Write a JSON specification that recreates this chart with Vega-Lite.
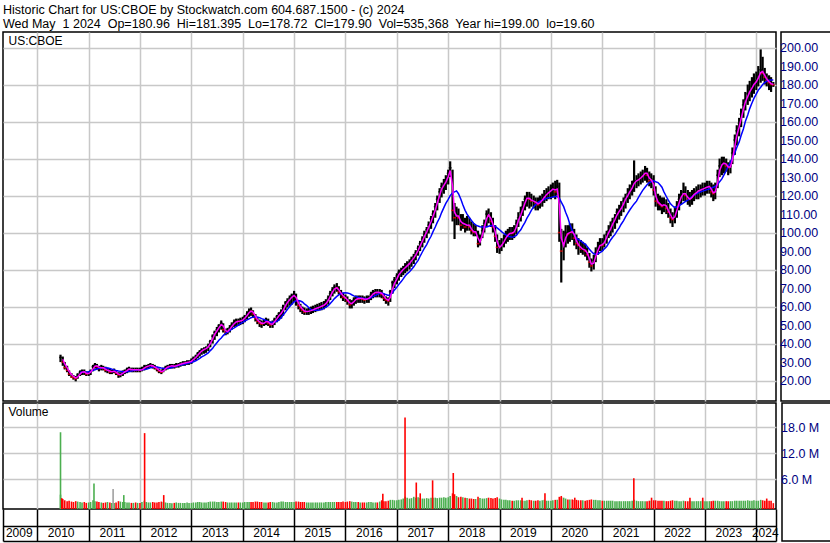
{
"$schema":"https://vega.github.io/schema/vega-lite/v6.json",
"padding":{"left":1,"top":3,"right":0,"bottom":0},
"background":"white",
"title":{"text":["Historic Chart for US:CBOE by Stockwatch.com 604.687.1500 - (c) 2024","Wed May\u00a0 1 2024\u00a0 Op=180.96\u00a0 Hi=181.395\u00a0 Lo=178.72\u00a0 Cl=179.90\u00a0 Vol=535,368\u00a0 Year hi=199.00\u00a0 lo=19.60"],"anchor":"start","frame":"group","font":"Liberation Sans","fontSize":12.5,"fontWeight":"normal","color":"#000000","lineHeight":14,"offset":1},
"config":{"view":{"stroke":"#000000","strokeWidth":1.5},"font":"Liberation Sans"},
"resolve":{"scale":{"color":"independent"}},
"datasets":{
"p":[
{"d":"2010-06-15","l":30,"h":34,"c":32.5,"v":2.5,"u":1},
{"d":"2010-07-01","l":28,"h":33,"c":30,"m":31.5,"v":1.5,"u":0},
{"d":"2010-07-15","l":26,"h":30,"c":27,"m":29,"v":1.2,"u":0},
{"d":"2010-08-01","l":24.5,"h":28,"c":25.5,"m":27,"v":1.0,"u":0},
{"d":"2010-08-15","l":22.5,"h":25.5,"c":23.5,"m":25,"v":1.1,"u":0},
{"d":"2010-09-01","l":21.5,"h":24,"c":22,"m":23.3,"v":0.9,"u":0},
{"d":"2010-09-15","l":20.5,"h":23,"c":21.5,"m":22.2,"v":0.8,"u":0},
{"d":"2010-10-01","l":19.6,"h":22.5,"c":21,"m":21.5,"v":1.0,"u":0},
{"d":"2010-10-15","l":21,"h":24,"c":23,"m":22,"v":0.9,"u":1},
{"d":"2010-11-01","l":22.5,"h":25.5,"c":24.5,"m":23.5,"b":24.5,"v":0.8,"u":1},
{"d":"2010-11-15","l":23,"h":26,"c":25,"m":24.6,"b":24.5,"v":0.7,"u":1},
{"d":"2010-12-01","l":23,"h":26,"c":24.5,"m":24.8,"b":24.5,"v":0.8,"u":0},
{"d":"2010-12-15","l":22.5,"h":25,"c":23.5,"m":24,"b":24.6,"v":0.6,"u":0},
{"d":"2011-01-01","l":22.5,"h":25,"c":24,"m":23.8,"b":24.8,"v":0.7,"u":1},
{"d":"2011-01-15","l":23,"h":26,"c":25,"m":24.5,"b":25.1,"v":0.8,"u":1},
{"d":"2011-02-01","l":25,"h":28.5,"c":27.5,"m":26.3,"b":25.5,"v":1.2,"u":1},
{"d":"2011-02-15","l":26.5,"h":29.5,"c":28.5,"m":27.8,"b":25.9,"v":1.0,"u":1},
{"d":"2011-03-01","l":26,"h":29,"c":27.5,"m":28,"b":26.3,"v":0.9,"u":0},
{"d":"2011-03-15","l":25,"h":28,"c":26.5,"m":27.2,"b":26.6,"v":0.8,"u":0},
{"d":"2011-04-01","l":25.5,"h":28.5,"c":27.5,"m":27,"b":26.8,"v":0.7,"u":1},
{"d":"2011-04-15","l":25.5,"h":28,"c":26.5,"m":27,"b":26.9,"v":0.6,"u":0},
{"d":"2011-05-01","l":24.5,"h":27.5,"c":25.5,"m":26.2,"b":27,"v":0.7,"u":0},
{"d":"2011-05-15","l":24,"h":27,"c":25.5,"m":25.6,"b":26.8,"v":0.8,"u":1},
{"d":"2011-06-01","l":23.5,"h":26.5,"c":24.5,"m":25.2,"b":26.5,"v":0.7,"u":0},
{"d":"2011-06-15","l":23.5,"h":26,"c":25,"m":24.8,"b":26.2,"v":0.6,"u":1},
{"d":"2011-07-01","l":24,"h":26.5,"c":25,"m":25,"b":25.8,"v":0.6,"u":1},
{"d":"2011-07-15","l":23,"h":25.5,"c":24,"m":24.6,"b":25.5,"v":0.7,"u":0},
{"d":"2011-08-01","l":21.5,"h":24.5,"c":23,"m":23.5,"b":25.2,"v":1.0,"u":0},
{"d":"2011-08-15","l":21.8,"h":24.5,"c":23.5,"m":23.2,"b":25,"v":0.9,"u":1},
{"d":"2011-09-01","l":22.5,"h":25.5,"c":24.5,"m":23.9,"b":24.8,"v":0.8,"u":1},
{"d":"2011-09-15","l":23.5,"h":26,"c":25,"m":24.7,"b":24.8,"v":0.8,"u":1},
{"d":"2011-10-01","l":24,"h":27,"c":26,"m":25.4,"b":24.8,"v":0.7,"u":1},
{"d":"2011-10-15","l":24.5,"h":27.5,"c":26.5,"m":26.2,"b":25,"v":0.7,"u":1},
{"d":"2011-11-01","l":24.5,"h":27,"c":25.5,"m":26,"b":25.2,"v":0.6,"u":0},
{"d":"2011-11-15","l":24.5,"h":27,"c":26,"m":25.8,"b":25.4,"v":0.6,"u":1},
{"d":"2011-12-01","l":24.5,"h":27,"c":25.5,"m":25.8,"b":25.6,"v":0.7,"u":0},
{"d":"2011-12-15","l":24.5,"h":27,"c":26,"m":25.8,"b":25.7,"v":0.6,"u":1},
{"d":"2012-01-01","l":24.5,"h":27,"c":25.5,"m":25.7,"b":25.8,"v":0.6,"u":0},
{"d":"2012-01-15","l":25,"h":27.5,"c":26,"m":25.8,"b":25.9,"v":0.8,"u":1},
{"d":"2012-02-01","l":25.5,"h":28.5,"c":27.5,"m":26.7,"b":26,"v":1.1,"u":1},
{"d":"2012-02-15","l":26,"h":28.5,"c":27.5,"m":27.4,"b":26.2,"v":0.8,"u":1},
{"d":"2012-03-01","l":26.5,"h":29,"c":28,"m":27.8,"b":26.5,"v":0.7,"u":1},
{"d":"2012-03-15","l":27,"h":29.5,"c":28.5,"m":28.2,"b":26.9,"v":0.7,"u":1},
{"d":"2012-04-01","l":26.5,"h":29,"c":27.5,"m":28,"b":27.2,"v":0.8,"u":0},
{"d":"2012-04-15","l":26,"h":28.5,"c":27,"m":27.3,"b":27.3,"v":0.7,"u":0},
{"d":"2012-05-01","l":25,"h":27.5,"c":26,"m":26.6,"b":27.3,"v":0.7,"u":0},
{"d":"2012-05-15","l":24,"h":26.5,"c":25,"m":25.6,"b":27.1,"v":0.8,"u":0},
{"d":"2012-06-01","l":23.5,"h":26,"c":24.5,"m":24.9,"b":26.8,"v":0.9,"u":0},
{"d":"2012-06-15","l":24.5,"h":27,"c":26,"m":25.2,"b":26.6,"v":0.8,"u":1},
{"d":"2012-07-01","l":25.5,"h":28,"c":27,"m":26.4,"b":26.5,"v":0.7,"u":1},
{"d":"2012-07-15","l":26,"h":28.5,"c":27.5,"m":27.2,"b":26.6,"v":0.6,"u":1},
{"d":"2012-08-01","l":26.5,"h":29,"c":28,"m":27.7,"b":26.8,"v":0.6,"u":1},
{"d":"2012-08-15","l":26.5,"h":29,"c":28,"m":28,"b":27.1,"v":0.5,"u":1},
{"d":"2012-09-01","l":26.5,"h":29,"c":27.5,"m":27.8,"b":27.5,"v":0.6,"u":0},
{"d":"2012-09-15","l":27,"h":29.5,"c":28.5,"m":28,"b":27.8,"v":0.7,"u":1},
{"d":"2012-10-01","l":27,"h":29.5,"c":28.5,"m":28.4,"b":28.2,"v":0.6,"u":1},
{"d":"2012-10-15","l":27.5,"h":30,"c":29,"m":28.8,"b":28.4,"v":0.6,"u":1},
{"d":"2012-11-01","l":28,"h":30.5,"c":29.5,"m":29.2,"b":28.6,"v":0.6,"u":1},
{"d":"2012-11-15","l":28,"h":30.5,"c":29.5,"m":29.5,"b":28.9,"v":0.6,"u":1},
{"d":"2012-12-01","l":28.5,"h":31,"c":30,"m":29.8,"b":29.2,"v":0.7,"u":1},
{"d":"2012-12-15","l":28.5,"h":31,"c":30,"m":30,"b":29.5,"v":0.6,"u":1},
{"d":"2013-01-01","l":29,"h":32,"c":31,"m":30.4,"b":29.8,"v":0.6,"u":1},
{"d":"2013-01-15","l":30,"h":33,"c":32,"m":31.4,"b":30.2,"v":0.7,"u":1},
{"d":"2013-02-01","l":31,"h":34,"c":33,"m":32.5,"b":30.7,"v":0.7,"u":1},
{"d":"2013-02-15","l":32,"h":35.5,"c":34.5,"m":33.7,"b":31.3,"v":0.8,"u":1},
{"d":"2013-03-01","l":33,"h":36.5,"c":35.5,"m":34.9,"b":32,"v":0.8,"u":1},
{"d":"2013-03-15","l":34,"h":37.5,"c":36.5,"m":36,"b":32.8,"v":0.7,"u":1},
{"d":"2013-04-01","l":34.5,"h":38,"c":37,"m":36.8,"b":33.5,"v":0.7,"u":1},
{"d":"2013-04-15","l":35,"h":38.5,"c":37.5,"m":37.3,"b":34.2,"v":0.7,"u":1},
{"d":"2013-05-01","l":36,"h":40,"c":39,"m":38.2,"b":35,"v":0.8,"u":1},
{"d":"2013-05-15","l":38,"h":42,"c":41,"m":40,"b":36.2,"v":0.9,"u":1},
{"d":"2013-06-01","l":40,"h":45,"c":44,"m":42.5,"b":37.5,"v":0.9,"u":1},
{"d":"2013-06-15","l":42,"h":47,"c":46,"m":45,"b":39,"v":0.9,"u":1},
{"d":"2013-07-01","l":44,"h":49,"c":47.5,"m":46.8,"b":40.5,"v":0.8,"u":1},
{"d":"2013-07-15","l":46,"h":50.5,"c":49.5,"m":48.5,"b":41.8,"v":0.8,"u":1},
{"d":"2013-08-01","l":47.5,"h":52.5,"c":51,"m":50.3,"b":43,"v":0.9,"u":1},
{"d":"2013-08-15","l":46,"h":51,"c":47.5,"m":49.5,"b":44.3,"v":0.9,"u":0},
{"d":"2013-09-01","l":44.5,"h":48,"c":46,"m":47,"b":45.5,"v":0.8,"u":0},
{"d":"2013-09-15","l":45,"h":48.5,"c":47,"m":46.5,"b":46.2,"v":0.7,"u":1},
{"d":"2013-10-01","l":46,"h":50,"c":48.5,"m":47.7,"b":47,"v":0.7,"u":1},
{"d":"2013-10-15","l":47.5,"h":51.5,"c":50,"m":49.2,"b":47.8,"v":0.7,"u":1},
{"d":"2013-11-01","l":49,"h":53,"c":51.5,"m":50.7,"b":48.5,"v":0.7,"u":1},
{"d":"2013-11-15","l":49.5,"h":53.5,"c":52,"m":51.7,"b":49.2,"v":0.7,"u":1},
{"d":"2013-12-01","l":49.5,"h":53.5,"c":52,"m":52,"b":50,"v":0.7,"u":0},
{"d":"2013-12-15","l":50,"h":54,"c":52.5,"m":52.2,"b":50.8,"v":0.7,"u":1},
{"d":"2014-01-01","l":50.5,"h":54.5,"c":53,"m":52.7,"b":51.5,"v":0.7,"u":1},
{"d":"2014-01-15","l":51.5,"h":55.5,"c":54.5,"m":53.7,"b":52.2,"v":0.8,"u":1},
{"d":"2014-02-01","l":53,"h":57.5,"c":56,"m":55.2,"b":52.8,"v":0.8,"u":1},
{"d":"2014-02-15","l":54.5,"h":59,"c":57.5,"m":56.7,"b":53.4,"v":0.8,"u":1},
{"d":"2014-03-01","l":55,"h":59.5,"c":57.5,"m":57.5,"b":54,"v":0.8,"u":0},
{"d":"2014-03-15","l":54,"h":58,"c":56,"m":57,"b":54.3,"v":0.8,"u":0},
{"d":"2014-04-01","l":52,"h":56,"c":53.5,"m":55,"b":54.5,"v":0.9,"u":0},
{"d":"2014-04-15","l":50.5,"h":54.5,"c":52,"m":53,"b":54.3,"v":0.9,"u":0},
{"d":"2014-05-01","l":49,"h":53,"c":51,"m":51.7,"b":54,"v":0.8,"u":0},
{"d":"2014-05-15","l":48.5,"h":52.5,"c":50.5,"m":51,"b":53.5,"v":0.8,"u":0},
{"d":"2014-06-01","l":49.5,"h":53,"c":51.5,"m":51,"b":53,"v":0.7,"u":1},
{"d":"2014-06-15","l":50,"h":54,"c":52.5,"m":51.8,"b":52.5,"v":0.7,"u":1},
{"d":"2014-07-01","l":49.5,"h":53.5,"c":51,"m":51.8,"b":52,"v":0.7,"u":0},
{"d":"2014-07-15","l":48.5,"h":52,"c":50,"m":50.7,"b":51.7,"v":0.8,"u":0},
{"d":"2014-08-01","l":48.5,"h":52.5,"c":51,"m":50.5,"b":51.5,"v":0.8,"u":1},
{"d":"2014-08-15","l":50,"h":54,"c":53,"m":51.8,"b":51.6,"v":0.7,"u":1},
{"d":"2014-09-01","l":51.5,"h":55.5,"c":54.5,"m":53.5,"b":52,"v":0.7,"u":1},
{"d":"2014-09-15","l":52.5,"h":57,"c":56,"m":55,"b":52.8,"v":0.8,"u":1},
{"d":"2014-10-01","l":53.5,"h":58.5,"c":57,"m":56.3,"b":54,"v":0.9,"u":1},
{"d":"2014-10-15","l":55,"h":61,"c":59.5,"m":58,"b":55.5,"v":0.9,"u":1},
{"d":"2014-11-01","l":58,"h":63,"c":62,"m":60.5,"b":57,"v":0.8,"u":1},
{"d":"2014-11-15","l":59.5,"h":64.5,"c":63,"m":62.3,"b":58.5,"v":0.8,"u":1},
{"d":"2014-12-01","l":60.5,"h":66,"c":64.5,"m":63.7,"b":60,"v":0.8,"u":1},
{"d":"2014-12-15","l":61,"h":67,"c":65.5,"m":65,"b":61.3,"v":0.8,"u":1},
{"d":"2015-01-01","l":62.5,"h":68.5,"c":66.5,"m":66,"b":62.5,"v":0.8,"u":1},
{"d":"2015-01-15","l":60.5,"h":67,"c":63,"m":65,"b":63.1,"v":0.9,"u":0},
{"d":"2015-02-01","l":58.5,"h":63.5,"c":60.5,"m":62,"b":63.3,"v":0.9,"u":0},
{"d":"2015-02-15","l":57,"h":61.5,"c":59,"m":60,"b":63,"v":0.8,"u":0},
{"d":"2015-03-01","l":56,"h":60,"c":58,"m":58.7,"b":62.5,"v":0.8,"u":0},
{"d":"2015-03-15","l":55.5,"h":59.5,"c":57,"m":57.6,"b":61.5,"v":0.8,"u":0},
{"d":"2015-04-01","l":55.5,"h":59,"c":57.5,"m":57.4,"b":60.5,"v":0.7,"u":1},
{"d":"2015-04-15","l":55.5,"h":59.5,"c":57.5,"m":57.5,"b":59.5,"v":0.7,"u":1},
{"d":"2015-05-01","l":56,"h":60,"c":58,"m":57.8,"b":58.5,"v":0.7,"u":1},
{"d":"2015-05-15","l":56.5,"h":60.5,"c":58.5,"m":58.2,"b":58.2,"v":0.7,"u":1},
{"d":"2015-06-01","l":57,"h":61,"c":59,"m":58.8,"b":58,"v":0.7,"u":1},
{"d":"2015-06-15","l":57.5,"h":61.5,"c":59.5,"m":59.2,"b":58,"v":0.7,"u":1},
{"d":"2015-07-01","l":58,"h":62,"c":60,"m":59.7,"b":58.2,"v":0.7,"u":1},
{"d":"2015-07-15","l":58,"h":62.5,"c":60.5,"m":60.2,"b":58.5,"v":0.7,"u":1},
{"d":"2015-08-01","l":58.5,"h":63,"c":61,"m":60.7,"b":59,"v":0.7,"u":1},
{"d":"2015-08-15","l":59.5,"h":64,"c":62.5,"m":61.6,"b":59.7,"v":0.8,"u":1},
{"d":"2015-09-01","l":61,"h":66,"c":64.5,"m":63.3,"b":60.5,"v":0.8,"u":1},
{"d":"2015-09-15","l":63.5,"h":68.5,"c":67,"m":65.5,"b":61.7,"v":0.8,"u":1},
{"d":"2015-10-01","l":65.5,"h":70.5,"c":69,"m":67.8,"b":63,"v":0.8,"u":1},
{"d":"2015-10-15","l":67,"h":72,"c":70.5,"m":69.5,"b":64.3,"v":0.8,"u":1},
{"d":"2015-11-01","l":68,"h":72.7,"c":70,"m":70.2,"b":65.5,"v":0.8,"u":0},
{"d":"2015-11-15","l":66.5,"h":71,"c":68,"m":69,"b":66.3,"v":0.8,"u":0},
{"d":"2015-12-01","l":64.5,"h":69,"c":66.5,"m":67.3,"b":67,"v":0.8,"u":0},
{"d":"2015-12-15","l":63,"h":67.5,"c":65,"m":65.8,"b":67.3,"v":0.9,"u":0},
{"d":"2016-01-01","l":62.5,"h":66.5,"c":64.5,"m":64.8,"b":67.5,"v":0.8,"u":0},
{"d":"2016-01-15","l":61,"h":65.5,"c":63,"m":63.7,"b":67.3,"v":0.9,"u":0},
{"d":"2016-02-01","l":59,"h":64,"c":61,"m":62,"b":67,"v":1.0,"u":0},
{"d":"2016-02-15","l":59,"h":63.5,"c":62,"m":61.6,"b":66.4,"v":0.9,"u":1},
{"d":"2016-03-01","l":60.5,"h":65,"c":63.5,"m":62.6,"b":65.8,"v":0.8,"u":1},
{"d":"2016-03-15","l":61.5,"h":66,"c":64.5,"m":63.8,"b":65.4,"v":0.8,"u":1},
{"d":"2016-04-01","l":62,"h":66,"c":64,"m":64.3,"b":65,"v":0.8,"u":0},
{"d":"2016-04-15","l":62,"h":66,"c":64.5,"m":64.3,"b":64.8,"v":0.7,"u":1},
{"d":"2016-05-01","l":62,"h":66,"c":64,"m":64.3,"b":64.5,"v":0.7,"u":0},
{"d":"2016-05-15","l":61.5,"h":65.5,"c":63.5,"m":64,"b":64.4,"v":0.7,"u":0},
{"d":"2016-06-01","l":62,"h":66,"c":64.5,"m":64,"b":64.3,"v":0.7,"u":1},
{"d":"2016-06-15","l":62,"h":66,"c":64.5,"m":64.4,"b":64.4,"v":0.8,"u":1},
{"d":"2016-07-01","l":63.5,"h":68,"c":66.5,"m":65.5,"b":64.8,"v":0.8,"u":1},
{"d":"2016-07-15","l":64.5,"h":69,"c":67.5,"m":66.8,"b":65.4,"v":0.7,"u":1},
{"d":"2016-08-01","l":65,"h":69.5,"c":68,"m":67.6,"b":66,"v":0.7,"u":1},
{"d":"2016-08-15","l":65,"h":69.5,"c":67.5,"m":67.8,"b":66.6,"v":0.7,"u":0},
{"d":"2016-09-01","l":65,"h":69.5,"c":67.5,"m":67.6,"b":67.2,"v":0.9,"u":1},
{"d":"2016-09-15","l":64.5,"h":69,"c":66.5,"m":67.2,"b":67.3,"v":1.2,"u":0},
{"d":"2016-10-01","l":63,"h":67,"c":64.5,"m":65.7,"b":67,"v":1.0,"u":0},
{"d":"2016-10-15","l":61.5,"h":65.5,"c":63.5,"m":64.2,"b":66.5,"v":1.0,"u":0},
{"d":"2016-11-01","l":60.5,"h":65,"c":63,"m":63.4,"b":66,"v":1.1,"u":0},
{"d":"2016-11-15","l":62.5,"h":69,"c":68,"m":65,"b":66.5,"v":1.3,"u":1},
{"d":"2016-12-01","l":67,"h":74,"c":73,"m":69.5,"b":67.5,"v":1.3,"u":1},
{"d":"2016-12-15","l":70,"h":76,"c":74.5,"m":72.5,"b":69,"v":1.2,"u":1},
{"d":"2017-01-01","l":72,"h":78,"c":76.5,"m":75,"b":70.5,"v":1.2,"u":1},
{"d":"2017-01-15","l":74,"h":80,"c":78.5,"m":77.3,"b":72,"v":1.3,"u":1},
{"d":"2017-02-01","l":76,"h":81,"c":79.5,"m":78.8,"b":73.5,"v":1.4,"u":1},
{"d":"2017-02-15","l":77,"h":82,"c":80.5,"m":80,"b":75,"v":1.6,"u":1},
{"d":"2017-03-01","l":78,"h":83.5,"c":81.5,"m":81,"b":76.5,"v":2.0,"u":1},
{"d":"2017-03-15","l":79,"h":84.5,"c":82.5,"m":82,"b":77.7,"v":1.8,"u":1},
{"d":"2017-04-01","l":80,"h":85.5,"c":84,"m":83.2,"b":78.8,"v":1.6,"u":1},
{"d":"2017-04-15","l":81.5,"h":87,"c":85.5,"m":84.7,"b":80,"v":1.7,"u":1},
{"d":"2017-05-01","l":83,"h":88.5,"c":87,"m":86.2,"b":81.5,"v":2.0,"u":1},
{"d":"2017-05-15","l":85,"h":90.5,"c":89,"m":88,"b":83.2,"v":1.8,"u":1},
{"d":"2017-06-01","l":87.5,"h":93,"c":91.5,"m":90.3,"b":85,"v":1.9,"u":1},
{"d":"2017-06-15","l":90,"h":95.5,"c":94,"m":92.8,"b":87.2,"v":1.7,"u":1},
{"d":"2017-07-01","l":92,"h":98,"c":96.5,"m":95.3,"b":89.5,"v":1.6,"u":1},
{"d":"2017-07-15","l":94.5,"h":101,"c":99,"m":97.8,"b":91.5,"v":1.6,"u":1},
{"d":"2017-08-01","l":97,"h":103,"c":101.5,"m":100.3,"b":93.5,"v":1.7,"u":1},
{"d":"2017-08-15","l":99.5,"h":106,"c":104,"m":102.8,"b":95.8,"v":1.6,"u":1},
{"d":"2017-09-01","l":102,"h":109,"c":107.5,"m":105.8,"b":98,"v":1.8,"u":1},
{"d":"2017-09-15","l":105,"h":112,"c":110,"m":108.8,"b":100.5,"v":1.8,"u":1},
{"d":"2017-10-01","l":108,"h":116,"c":114,"m":112,"b":103,"v":1.8,"u":1},
{"d":"2017-10-15","l":112,"h":120,"c":118,"m":116,"b":105.5,"v":1.7,"u":1},
{"d":"2017-11-01","l":116,"h":124,"c":122,"m":120,"b":108,"v":1.8,"u":1},
{"d":"2017-11-15","l":119,"h":127,"c":125,"m":123.5,"b":110.8,"v":1.8,"u":1},
{"d":"2017-12-01","l":121,"h":129,"c":126,"m":125.5,"b":113.5,"v":1.9,"u":1},
{"d":"2017-12-15","l":123,"h":131,"c":128.5,"m":127.3,"b":115.8,"v":1.8,"u":1},
{"d":"2018-01-01","l":126,"h":134,"c":132,"m":130.2,"b":118,"v":1.9,"u":1},
{"d":"2018-01-15","l":130,"h":138.5,"c":135,"m":133.5,"b":120,"v":2.2,"u":1},
{"d":"2018-02-01","l":106,"h":134,"c":112,"m":125,"b":121.5,"v":2.8,"u":0},
{"d":"2018-02-15","l":96.5,"h":116,"c":108,"m":111,"b":122,"v":2.6,"u":0},
{"d":"2018-03-01","l":104,"h":114,"c":110,"m":109,"b":122.5,"v":2.2,"u":1},
{"d":"2018-03-15","l":104,"h":113,"c":108,"m":109,"b":121,"v":1.9,"u":0},
{"d":"2018-04-01","l":101,"h":110,"c":104,"m":106,"b":118,"v":2.0,"u":0},
{"d":"2018-04-15","l":102,"h":110,"c":106,"m":105,"b":115,"v":1.9,"u":1},
{"d":"2018-05-01","l":100,"h":108,"c":103,"m":104.5,"b":112,"v":1.8,"u":0},
{"d":"2018-05-15","l":101,"h":109,"c":105,"m":104,"b":110,"v":1.7,"u":1},
{"d":"2018-06-01","l":101,"h":108,"c":103,"m":104,"b":108,"v":1.6,"u":0},
{"d":"2018-06-15","l":99,"h":106,"c":101,"m":102,"b":106.5,"v":1.6,"u":0},
{"d":"2018-07-01","l":98,"h":105,"c":100,"m":100.5,"b":105,"v":1.5,"u":0},
{"d":"2018-07-15","l":98,"h":104,"c":101,"m":100.5,"b":104.2,"v":1.5,"u":1},
{"d":"2018-08-01","l":92,"h":101,"c":94,"m":97,"b":103.5,"v":2.0,"u":0},
{"d":"2018-08-15","l":93,"h":99,"c":96,"m":95,"b":103.2,"v":1.7,"u":1},
{"d":"2018-09-01","l":97,"h":104,"c":101,"m":98.5,"b":103,"v":1.6,"u":1},
{"d":"2018-09-15","l":100,"h":107,"c":105,"m":103,"b":103,"v":1.6,"u":1},
{"d":"2018-10-01","l":103,"h":112,"c":110,"m":107.5,"b":103,"v":1.7,"u":1},
{"d":"2018-10-15","l":105,"h":113,"c":109,"m":109.5,"b":103.4,"v":1.8,"u":0},
{"d":"2018-11-01","l":103,"h":111,"c":106,"m":107.5,"b":103.8,"v":1.7,"u":0},
{"d":"2018-11-15","l":100,"h":108,"c":103,"m":104.5,"b":103.7,"v":1.6,"u":0},
{"d":"2018-12-01","l":95,"h":104,"c":98,"m":100.5,"b":103.5,"v":1.7,"u":0},
{"d":"2018-12-15","l":89,"h":99,"c":92,"m":95,"b":102.5,"v":1.9,"u":0},
{"d":"2019-01-01","l":88.5,"h":96,"c":92,"m":92,"b":101.5,"v":1.6,"u":1},
{"d":"2019-01-15","l":90,"h":97,"c":94,"m":93,"b":100.5,"v":1.4,"u":1},
{"d":"2019-02-01","l":92,"h":99,"c":96,"m":95,"b":99.5,"v":1.3,"u":1},
{"d":"2019-02-15","l":94,"h":101,"c":98,"m":97,"b":98.8,"v":1.3,"u":1},
{"d":"2019-03-01","l":95,"h":102,"c":99,"m":98.5,"b":98,"v":1.2,"u":1},
{"d":"2019-03-15","l":96,"h":103,"c":100,"m":99.5,"b":97.8,"v":1.2,"u":1},
{"d":"2019-04-01","l":96,"h":103,"c":99.5,"m":99.8,"b":97.5,"v":1.1,"u":0},
{"d":"2019-04-15","l":97,"h":104,"c":101,"m":100.3,"b":97.8,"v":1.1,"u":1},
{"d":"2019-05-01","l":99,"h":107,"c":105,"m":103,"b":98.5,"v":1.2,"u":1},
{"d":"2019-05-15","l":103,"h":111,"c":108,"m":106.5,"b":100,"v":1.2,"u":1},
{"d":"2019-06-01","l":106,"h":114,"c":111,"m":109.5,"b":101.5,"v":1.2,"u":1},
{"d":"2019-06-15","l":109,"h":117,"c":114,"m":112.5,"b":103.5,"v":1.1,"u":1},
{"d":"2019-07-01","l":112,"h":120,"c":118,"m":116,"b":105.5,"v":1.1,"u":1},
{"d":"2019-07-15","l":114,"h":122,"c":119,"m":118.5,"b":107.8,"v":1.2,"u":1},
{"d":"2019-08-01","l":113,"h":122,"c":118,"m":118.5,"b":110,"v":1.3,"u":0},
{"d":"2019-08-15","l":114,"h":121,"c":117,"m":117.5,"b":112,"v":1.2,"u":0},
{"d":"2019-09-01","l":113,"h":120,"c":117,"m":117,"b":114,"v":1.1,"u":1},
{"d":"2019-09-15","l":112,"h":119,"c":116,"m":116.5,"b":115.2,"v":1.1,"u":0},
{"d":"2019-10-01","l":112,"h":119,"c":115,"m":115.5,"b":116.3,"v":1.2,"u":0},
{"d":"2019-10-15","l":113,"h":120,"c":117,"m":116,"b":117,"v":1.1,"u":1},
{"d":"2019-11-01","l":114,"h":121,"c":118,"m":117.5,"b":117.5,"v":1.2,"u":1},
{"d":"2019-11-15","l":116,"h":123,"c":120,"m":119,"b":118,"v":1.3,"u":1},
{"d":"2019-12-01","l":117,"h":124,"c":121,"m":120.5,"b":118.5,"v":1.1,"u":1},
{"d":"2019-12-15","l":118,"h":125,"c":122,"m":121.5,"b":118.8,"v":1.1,"u":1},
{"d":"2020-01-01","l":118,"h":126,"c":123,"m":122.5,"b":119,"v":1.1,"u":1},
{"d":"2020-01-15","l":119,"h":127,"c":124,"m":123.5,"b":119.2,"v":1.2,"u":1},
{"d":"2020-02-01","l":118,"h":128,"c":122,"m":123,"b":119.5,"v":1.3,"u":0},
{"d":"2020-02-15","l":120,"h":128.5,"c":125,"m":123.5,"b":119.5,"v":1.3,"u":1},
{"d":"2020-03-01","l":95,"h":127,"c":100,"m":115,"b":118.5,"v":2.0,"u":0},
{"d":"2020-03-15","l":73,"h":102,"c":90,"m":97,"b":116.5,"v":2.2,"u":0},
{"d":"2020-04-01","l":85,"h":101,"c":95,"m":93,"b":114,"v":1.8,"u":1},
{"d":"2020-04-15","l":92,"h":104,"c":100,"m":97,"b":111,"v":1.6,"u":1},
{"d":"2020-05-01","l":94,"h":104,"c":99,"m":99.5,"b":108,"v":1.4,"u":0},
{"d":"2020-05-15","l":95,"h":105,"c":101,"m":100,"b":104.5,"v":1.4,"u":1},
{"d":"2020-06-01","l":96,"h":105,"c":100,"m":100.5,"b":101,"v":1.4,"u":0},
{"d":"2020-06-15","l":93,"h":102,"c":97,"m":99,"b":99,"v":1.3,"u":0},
{"d":"2020-07-01","l":91,"h":99,"c":94,"m":95.5,"b":97,"v":1.3,"u":0},
{"d":"2020-07-15","l":88,"h":97,"c":93,"m":93.5,"b":96.2,"v":1.2,"u":0},
{"d":"2020-08-01","l":89,"h":96,"c":91,"m":92,"b":95.5,"v":1.2,"u":0},
{"d":"2020-08-15","l":88,"h":95,"c":91,"m":91,"b":94.6,"v":1.2,"u":1},
{"d":"2020-09-01","l":87,"h":94,"c":90,"m":90.5,"b":93.8,"v":1.1,"u":0},
{"d":"2020-09-15","l":85,"h":92,"c":88,"m":89,"b":92.5,"v":1.2,"u":0},
{"d":"2020-10-01","l":81,"h":89,"c":84,"m":86,"b":91,"v":1.3,"u":0},
{"d":"2020-10-15","l":79,"h":86,"c":82,"m":83,"b":89.8,"v":1.4,"u":0},
{"d":"2020-11-01","l":80,"h":88,"c":85,"m":83.5,"b":88.5,"v":1.3,"u":1},
{"d":"2020-11-15","l":84,"h":92,"c":89,"m":87,"b":88.3,"v":1.3,"u":1},
{"d":"2020-12-01","l":88,"h":95,"c":92,"m":90.5,"b":88.5,"v":1.2,"u":1},
{"d":"2020-12-15","l":90,"h":97,"c":94,"m":93,"b":89.2,"v":1.2,"u":1},
{"d":"2021-01-01","l":90,"h":97,"c":93,"m":93.5,"b":90,"v":1.1,"u":0},
{"d":"2021-01-15","l":92,"h":99,"c":96,"m":94.5,"b":91.2,"v":1.1,"u":1},
{"d":"2021-02-01","l":94,"h":101,"c":99,"m":97.5,"b":92.5,"v":1.1,"u":1},
{"d":"2021-02-15","l":97,"h":104,"c":101,"m":100,"b":94.2,"v":1.1,"u":1},
{"d":"2021-03-01","l":98,"h":106,"c":103,"m":102,"b":96,"v":1.1,"u":1},
{"d":"2021-03-15","l":100,"h":108,"c":106,"m":104.5,"b":97.5,"v":1.1,"u":1},
{"d":"2021-04-01","l":102,"h":110,"c":108,"m":107,"b":99,"v":1.0,"u":1},
{"d":"2021-04-15","l":105,"h":113,"c":111,"m":109.5,"b":100.8,"v":1.0,"u":1},
{"d":"2021-05-01","l":107,"h":115,"c":112,"m":111.5,"b":102.5,"v":1.0,"u":1},
{"d":"2021-05-15","l":109,"h":117,"c":114,"m":113,"b":104.5,"v":1.0,"u":1},
{"d":"2021-06-01","l":111,"h":119,"c":117,"m":115.5,"b":106.5,"v":1.0,"u":1},
{"d":"2021-06-15","l":113,"h":121,"c":119,"m":118,"b":108.5,"v":1.0,"u":1},
{"d":"2021-07-01","l":116,"h":124,"c":121,"m":120,"b":110.5,"v":1.0,"u":1},
{"d":"2021-07-15","l":118,"h":126,"c":123,"m":122,"b":112.2,"v":1.0,"u":1},
{"d":"2021-08-01","l":120,"h":128,"c":125,"m":124,"b":114,"v":1.1,"u":1},
{"d":"2021-08-15","l":122,"h":139,"c":128,"m":126.5,"b":115.5,"v":1.3,"u":1},
{"d":"2021-09-01","l":124,"h":131,"c":128,"m":128,"b":117,"v":1.1,"u":1},
{"d":"2021-09-15","l":125,"h":132,"c":129,"m":128.5,"b":119,"v":1.0,"u":1},
{"d":"2021-10-01","l":126,"h":133,"c":130,"m":129.5,"b":121,"v":1.0,"u":1},
{"d":"2021-10-15","l":127,"h":134,"c":131,"m":130.5,"b":122.8,"v":1.0,"u":1},
{"d":"2021-11-01","l":128,"h":136,"c":133,"m":132,"b":124.5,"v":1.0,"u":1},
{"d":"2021-11-15","l":127,"h":135,"c":131,"m":132,"b":125.8,"v":1.0,"u":0},
{"d":"2021-12-01","l":125,"h":133,"c":128,"m":129.5,"b":127,"v":1.1,"u":0},
{"d":"2021-12-15","l":124,"h":132,"c":129,"m":128.5,"b":127.5,"v":1.1,"u":1},
{"d":"2022-01-01","l":120,"h":131,"c":123,"m":126,"b":128,"v":1.2,"u":0},
{"d":"2022-01-15","l":114,"h":125,"c":117,"m":120,"b":127.5,"v":1.2,"u":0},
{"d":"2022-02-01","l":112,"h":121,"c":116,"m":116.5,"b":127,"v":1.1,"u":0},
{"d":"2022-02-15","l":112,"h":120,"c":115,"m":115.5,"b":125.8,"v":1.1,"u":0},
{"d":"2022-03-01","l":110,"h":119,"c":114,"m":114.5,"b":124.5,"v":1.1,"u":0},
{"d":"2022-03-15","l":111,"h":119,"c":116,"m":115,"b":122,"v":1.1,"u":1},
{"d":"2022-04-01","l":110,"h":118,"c":113,"m":114.5,"b":119.5,"v":1.0,"u":0},
{"d":"2022-04-15","l":108,"h":116,"c":111,"m":112,"b":117.5,"v":1.0,"u":0},
{"d":"2022-05-01","l":105,"h":113,"c":108,"m":109.5,"b":115.5,"v":1.1,"u":0},
{"d":"2022-05-15","l":103,"h":111,"c":107,"m":107.5,"b":114.5,"v":1.2,"u":0},
{"d":"2022-06-01","l":105,"h":114,"c":110,"m":108.5,"b":113.5,"v":1.1,"u":1},
{"d":"2022-06-15","l":108,"h":117,"c":114,"m":112,"b":113.8,"v":1.1,"u":1},
{"d":"2022-07-01","l":112,"h":121,"c":118,"m":116,"b":114.5,"v":1.0,"u":1},
{"d":"2022-07-15","l":115,"h":123,"c":120,"m":119,"b":115.2,"v":1.0,"u":1},
{"d":"2022-08-01","l":117,"h":127,"c":122,"m":121,"b":116,"v":1.1,"u":1},
{"d":"2022-08-15","l":117,"h":125,"c":120,"m":121,"b":116.8,"v":1.0,"u":0},
{"d":"2022-09-01","l":115,"h":123,"c":118,"m":119,"b":117.5,"v":1.0,"u":0},
{"d":"2022-09-15","l":114,"h":122,"c":118,"m":118,"b":118.5,"v":1.1,"u":1},
{"d":"2022-10-01","l":115,"h":123,"c":120,"m":119,"b":119.5,"v":1.0,"u":1},
{"d":"2022-10-15","l":117,"h":124,"c":121,"m":120.5,"b":120.2,"v":1.0,"u":1},
{"d":"2022-11-01","l":118,"h":125,"c":122,"m":121.5,"b":121,"v":1.0,"u":1},
{"d":"2022-11-15","l":118,"h":126,"c":123,"m":122.5,"b":121.5,"v":1.0,"u":1},
{"d":"2022-12-01","l":119,"h":126,"c":123,"m":123,"b":122,"v":1.0,"u":1},
{"d":"2022-12-15","l":120,"h":127,"c":124,"m":123.5,"b":122.4,"v":1.1,"u":1},
{"d":"2023-01-01","l":120,"h":127,"c":124,"m":124,"b":122.8,"v":1.0,"u":1},
{"d":"2023-01-15","l":121,"h":128,"c":125,"m":124.5,"b":123.2,"v":1.0,"u":1},
{"d":"2023-02-01","l":121,"h":128,"c":125,"m":125,"b":123.5,"v":1.0,"u":1},
{"d":"2023-02-15","l":119,"h":127,"c":122,"m":123.5,"b":124,"v":1.0,"u":0},
{"d":"2023-03-01","l":117,"h":126,"c":121,"m":121.5,"b":124.5,"v":1.1,"u":0},
{"d":"2023-03-15","l":118,"h":127,"c":123,"m":122,"b":125,"v":1.1,"u":1},
{"d":"2023-04-01","l":124,"h":134,"c":131,"m":127,"b":126,"v":1.1,"u":1},
{"d":"2023-04-15","l":130,"h":140,"c":136,"m":133.5,"b":127.5,"v":1.0,"u":1},
{"d":"2023-05-01","l":131,"h":141,"c":137,"m":136.5,"b":129,"v":1.0,"u":1},
{"d":"2023-05-15","l":132,"h":141,"c":138,"m":137.5,"b":131,"v":1.0,"u":1},
{"d":"2023-06-01","l":133,"h":140,"c":136,"m":137,"b":133.5,"v":1.0,"u":0},
{"d":"2023-06-15","l":131,"h":138,"c":135,"m":135.5,"b":135.8,"v":1.0,"u":0},
{"d":"2023-07-01","l":132,"h":139,"c":136,"m":135.5,"b":138,"v":1.0,"u":1},
{"d":"2023-07-15","l":137,"h":146,"c":143,"m":139.5,"b":140.5,"v":1.0,"u":1},
{"d":"2023-08-01","l":142,"h":153,"c":150,"m":146.5,"b":143,"v":1.1,"u":1},
{"d":"2023-08-15","l":147,"h":158,"c":155,"m":152.5,"b":146,"v":1.1,"u":1},
{"d":"2023-09-01","l":152,"h":162,"c":159,"m":157,"b":149,"v":1.1,"u":1},
{"d":"2023-09-15","l":157,"h":167,"c":164,"m":161.5,"b":152.5,"v":1.1,"u":1},
{"d":"2023-10-01","l":162,"h":172,"c":169,"m":166.5,"b":156,"v":1.1,"u":1},
{"d":"2023-10-15","l":166,"h":176,"c":172,"m":170.5,"b":160,"v":1.1,"u":1},
{"d":"2023-11-01","l":169,"h":180,"c":175,"m":173.5,"b":163.5,"v":1.2,"u":1},
{"d":"2023-11-15","l":171,"h":182,"c":177,"m":176,"b":167,"v":1.1,"u":1},
{"d":"2023-12-01","l":173,"h":184,"c":179,"m":178,"b":170,"v":1.1,"u":1},
{"d":"2023-12-15","l":175,"h":186,"c":181,"m":180,"b":172.5,"v":1.2,"u":1},
{"d":"2024-01-01","l":177,"h":187,"c":182,"m":181.5,"b":175,"v":1.1,"u":1},
{"d":"2024-01-15","l":179,"h":190,"c":185,"m":183.5,"b":177,"v":1.1,"u":1},
{"d":"2024-02-01","l":181,"h":199,"c":188,"m":186.5,"b":178.5,"v":1.3,"u":1},
{"d":"2024-02-15","l":182,"h":195,"c":186,"m":187,"b":180,"v":1.2,"u":0},
{"d":"2024-03-01","l":180,"h":189,"c":184,"m":185,"b":181,"v":1.1,"u":0},
{"d":"2024-03-15","l":179,"h":186,"c":182,"m":183,"b":181.8,"v":1.1,"u":0},
{"d":"2024-04-01","l":177,"h":185,"c":181,"m":181.5,"b":182.3,"v":1.1,"u":0},
{"d":"2024-04-15","l":176,"h":184,"c":180,"m":180.5,"b":182.5,"v":1.1,"u":0},
{"d":"2024-05-01","l":178.72,"h":181.395,"c":179.9,"m":180,"b":182.5,"v":0.54,"u":0}
],
"s":[
{"d":"2010-06-15","v":16.9,"u":1},
{"d":"2010-06-24","v":1.7,"u":0},
{"d":"2011-02-08","v":5.1,"u":1},
{"d":"2011-06-24","v":3.8,"u":2},
{"d":"2011-09-08","v":2.4,"u":1},
{"d":"2012-02-03","v":16.7,"u":0},
{"d":"2012-06-18","v":2.4,"u":0},
{"d":"2016-09-23","v":2.7,"u":0},
{"d":"2017-02-28","v":20.3,"u":0},
{"d":"2017-05-19","v":5.3,"u":0},
{"d":"2017-06-16","v":2.8,"u":0},
{"d":"2017-09-12","v":5.8,"u":0},
{"d":"2018-02-06","v":7.5,"u":0},
{"d":"2019-06-10","v":1.8,"u":0},
{"d":"2019-11-20","v":2.8,"u":0},
{"d":"2020-03-16","v":1.9,"u":0},
{"d":"2020-06-19","v":1.8,"u":0},
{"d":"2021-08-13","v":6.3,"u":0},
{"d":"2021-12-17","v":1.8,"u":0},
{"d":"2022-09-16","v":1.8,"u":0},
{"d":"2022-12-16","v":1.8,"u":0},
{"d":"2024-03-15","v":1.6,"u":0}
]
},
"spacing":0,
"vconcat":[
{"spacing":0,"hconcat":[
 {"width":773,"height":369,"data":{"name":"p"},
  "layer":[
  {"mark":{"type":"rule","color":"#000000","strokeWidth":2.2},
   "encoding":{
    "x":{"field":"d","type":"temporal","scale":{"type":"utc","domain":[{"year":2009,"month":5,"date":2,"utc":true},{"year":2024,"month":5,"date":20,"utc":true}]},
      "axis":{"values":[{"year":2010,"month":1,"date":1,"utc":true},{"year":2011,"month":1,"date":1,"utc":true},{"year":2012,"month":1,"date":1,"utc":true},{"year":2013,"month":1,"date":1,"utc":true},{"year":2014,"month":1,"date":1,"utc":true},{"year":2015,"month":1,"date":1,"utc":true},{"year":2016,"month":1,"date":1,"utc":true},{"year":2017,"month":1,"date":1,"utc":true},{"year":2018,"month":1,"date":1,"utc":true},{"year":2019,"month":1,"date":1,"utc":true},{"year":2020,"month":1,"date":1,"utc":true},{"year":2021,"month":1,"date":1,"utc":true},{"year":2022,"month":1,"date":1,"utc":true},{"year":2023,"month":1,"date":1,"utc":true},{"year":2024,"month":1,"date":1,"utc":true}],"grid":true,"gridColor":"#c8c8c8","gridWidth":1.5,"labels":false,"ticks":false,"domain":false,"title":null}},
    "y":{"field":"l","type":"quantitative","scale":{"domain":[8.97,208.4],"nice":false,"zero":false},
      "axis":{"values":[20,30,40,50,60,70,80,90,100,110,120,130,140,150,160,170,180,190,200],"grid":true,"gridColor":"#c8c8c8","gridWidth":1.5,"labels":false,"ticks":false,"domain":false,"title":null}},
    "y2":{"field":"h"}}},
  {"mark":{"type":"tick","orient":"horizontal","size":3,"thickness":1.5},
   "encoding":{"x":{"field":"d","type":"temporal"},"y":{"field":"c","type":"quantitative"},
    "color":{"field":"u","type":"nominal","scale":{"domain":[0,1],"range":["#ff0000","#000000"]},"legend":null}}},
  {"mark":{"type":"line","color":"#0000ff","strokeWidth":1.5},
   "encoding":{"x":{"field":"d","type":"temporal"},"y":{"field":"b","type":"quantitative"}}},
  {"mark":{"type":"line","color":"#ff00ff","strokeWidth":1.5},
   "encoding":{"x":{"field":"d","type":"temporal"},"y":{"field":"m","type":"quantitative"}}},
  {"data":{"values":[{"t":"US:CBOE"}]},
   "mark":{"type":"text","align":"left","baseline":"middle","font":"Liberation Sans","fontSize":12,"color":"#000000"},
   "encoding":{"x":{"datum":{"year":2009,"month":6,"date":10,"utc":true},"type":"temporal"},"y":{"datum":203.4,"type":"quantitative"},"text":{"field":"t","type":"nominal"}}}
  ]},
 {"width":55,"height":369,"data":{"name":"p"},
  "mark":{"type":"rule","opacity":0},
  "encoding":{"y":{"field":"l","type":"quantitative","scale":{"domain":[8.97,208.4],"nice":false,"zero":false},
    "axis":{"orient":"right","offset":-55,"values":[20,30,40,50,60,70,80,90,100,110,120,130,140,150,160,170,180,190,200],"format":".2f","labelAlign":"left","labelPadding":-1.5,"tickSize":0,"ticks":false,"domain":false,"grid":false,"labelColor":"#000080","labelFont":"Liberation Sans","labelFontSize":12.5,"labelOverlap":false,"labelFlush":false,"labelBound":false,"title":null}},
   "y2":{"field":"h"}}}
]},
{"spacing":0,"hconcat":[
 {"width":773,"height":106,
  "resolve":{"axis":{"x":"independent"}},
  "layer":[
  {"data":{"name":"p"},"mark":{"type":"rule","strokeWidth":1.6},
   "encoding":{
    "x":{"field":"d","type":"temporal","scale":{"type":"utc","domain":[{"year":2009,"month":5,"date":2,"utc":true},{"year":2024,"month":5,"date":20,"utc":true}]},
     "axis":{"orient":"bottom","values":[{"year":2010,"month":1,"date":1,"utc":true},{"year":2011,"month":1,"date":1,"utc":true},{"year":2012,"month":1,"date":1,"utc":true},{"year":2013,"month":1,"date":1,"utc":true},{"year":2014,"month":1,"date":1,"utc":true},{"year":2015,"month":1,"date":1,"utc":true},{"year":2016,"month":1,"date":1,"utc":true},{"year":2017,"month":1,"date":1,"utc":true},{"year":2018,"month":1,"date":1,"utc":true},{"year":2019,"month":1,"date":1,"utc":true},{"year":2020,"month":1,"date":1,"utc":true},{"year":2021,"month":1,"date":1,"utc":true},{"year":2022,"month":1,"date":1,"utc":true},{"year":2023,"month":1,"date":1,"utc":true},{"year":2024,"month":1,"date":1,"utc":true}],"grid":true,"gridColor":"#c8c8c8","gridWidth":1.5,"labels":false,"ticks":false,"tickSize":0,"domain":false,"title":null}},
    "y":{"field":"v","type":"quantitative","scale":{"domain":[-0.81,23.65],"nice":false,"zero":false},
     "axis":{"values":[6,12,18],"grid":true,"gridColor":"#c8c8c8","gridWidth":1.5,"labels":false,"ticks":false,"domain":false,"title":null}},
    "y2":{"datum":-0.81},
    "color":{"field":"u","type":"nominal","scale":{"domain":[0,1,2],"range":["#ff0000","#4caf50","#a0a0a0"]},"legend":null}}},
  {"data":{"name":"s"},"mark":{"type":"rule","strokeWidth":1.6},
   "encoding":{
    "x":{"field":"d","type":"temporal",
     "axis":{"orient":"bottom","values":[{"year":2009,"month":5,"date":2,"utc":true},{"year":2010,"month":1,"date":1,"utc":true},{"year":2011,"month":1,"date":1,"utc":true},{"year":2012,"month":1,"date":1,"utc":true},{"year":2013,"month":1,"date":1,"utc":true},{"year":2014,"month":1,"date":1,"utc":true},{"year":2015,"month":1,"date":1,"utc":true},{"year":2016,"month":1,"date":1,"utc":true},{"year":2017,"month":1,"date":1,"utc":true},{"year":2018,"month":1,"date":1,"utc":true},{"year":2019,"month":1,"date":1,"utc":true},{"year":2020,"month":1,"date":1,"utc":true},{"year":2021,"month":1,"date":1,"utc":true},{"year":2022,"month":1,"date":1,"utc":true},{"year":2023,"month":1,"date":1,"utc":true},{"year":2024,"month":1,"date":1,"utc":true},{"year":2024,"month":5,"date":20,"utc":true}],"grid":false,"labels":false,"ticks":true,"tickSize":32,"tickWidth":1.5,"tickColor":"#000000","domain":false,"title":null}},
    "y":{"field":"v","type":"quantitative"},
    "y2":{"datum":-0.81},
    "color":{"field":"u","type":"nominal"}}},
  {"data":{"name":"s"},"mark":{"type":"rule","opacity":0},
   "encoding":{
    "x":{"field":"d","type":"temporal",
     "axis":{"orient":"bottom","offset":17,"values":[{"year":2009,"month":8,"date":22,"utc":true},{"year":2010,"month":6,"date":16,"utc":true},{"year":2011,"month":6,"date":16,"utc":true},{"year":2012,"month":6,"date":16,"utc":true},{"year":2013,"month":6,"date":16,"utc":true},{"year":2014,"month":6,"date":16,"utc":true},{"year":2015,"month":6,"date":16,"utc":true},{"year":2016,"month":6,"date":16,"utc":true},{"year":2017,"month":6,"date":16,"utc":true},{"year":2018,"month":6,"date":16,"utc":true},{"year":2019,"month":6,"date":16,"utc":true},{"year":2020,"month":6,"date":16,"utc":true},{"year":2021,"month":6,"date":16,"utc":true},{"year":2022,"month":6,"date":16,"utc":true},{"year":2023,"month":6,"date":16,"utc":true},{"year":2024,"month":3,"date":1,"utc":true}],"format":"%Y","grid":false,"ticks":false,"tickSize":0,"labelPadding":1.5,"labelFont":"Liberation Sans","labelFontSize":12,"labelColor":"#000000","labelOverlap":false,"labelFlush":false,"labelBound":false,"domain":true,"domainColor":"#000000","domainWidth":1.5,"title":null}},
    "y":{"field":"v","type":"quantitative"}}},
  {"data":{"name":"s"},"mark":{"type":"rule","opacity":0},
   "encoding":{
    "x":{"field":"d","type":"temporal",
     "axis":{"orient":"bottom","offset":32,"values":[],"grid":false,"ticks":false,"tickSize":0,"labels":false,"domain":true,"domainColor":"#000000","domainWidth":1.5,"title":null}},
    "y":{"field":"v","type":"quantitative"}}},
  {"data":{"values":[{"t":"Volume"}]},
   "mark":{"type":"text","align":"left","baseline":"middle","font":"Liberation Sans","fontSize":12,"color":"#000000"},
   "encoding":{"x":{"datum":{"year":2009,"month":6,"date":10,"utc":true},"type":"temporal","axis":null},"y":{"datum":21.5,"type":"quantitative"},"text":{"field":"t","type":"nominal"}}}
  ]},
 {"width":55,"height":138,"data":{"name":"s"},
  "mark":{"type":"rule","opacity":0},
  "encoding":{"y":{"field":"v","type":"quantitative","scale":{"domain":[-8.2,23.65],"nice":false,"zero":false},
    "axis":{"orient":"right","offset":-55,"values":[6,12,18],"labelExpr":"format(datum.value, '.1f') + ' M'","labelAlign":"left","labelPadding":-1.5,"tickSize":0,"ticks":false,"domain":false,"grid":false,"labelColor":"#000080","labelFont":"Liberation Sans","labelFontSize":12.5,"labelOverlap":false,"labelFlush":false,"labelBound":false,"title":null}}}}
]}
]
}
